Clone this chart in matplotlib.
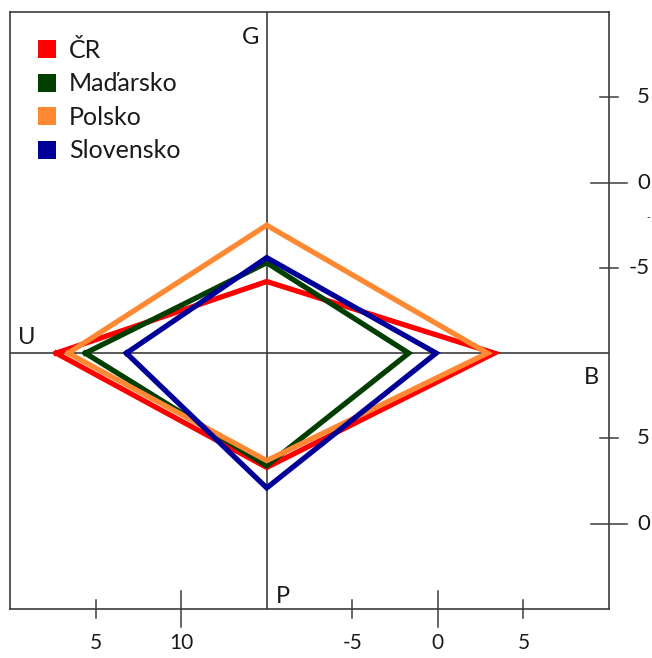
"""
Magic quadrangle of four economies (G, U, B, P).
"""
import matplotlib.pyplot as plt
from matplotlib.patches import Patch

countries = ["ČR", "Maďarsko", "Polsko", "Slovensko"]
colors = ["#ff0000", "#003f00", "#ff8833", "#000099"]

growth_g = [-5.8, -4.7, -2.5, -4.4]
unemployment_u = [2.7, 4.4, 3.4, 6.8]
balance_b = [3.3, -1.7, 2.9, -0.1]
prices_p = [3.3, 3.4, 3.7, 2.1]

g_ticks = [5, 0, -5]
p_ticks = [5, 0]
u_ticks = [5, 10]
b_ticks = [-5, 0, 5]


# each half-axis has its own scale, all meeting in the centre
def g_pos(v):
    return v + 10


def p_pos(v):
    return v - 10


def u_pos(v):
    return v - 15


def b_pos(v):
    return v + 10


plt.rcParams["font.family"] = ["Lato", "DejaVu Sans"]
line_col = "#3c3c3c"
text_col = "#1a1a1a"

fig = plt.figure(figsize=(6.52, 6.58), dpi=100)
ax = fig.add_axes([10 / 652, 49 / 658, 599 / 652, 597 / 658])
ax.set_xlim(-15, 20)
ax.set_ylim(-15, 20)
ax.set_xticks([])
ax.set_yticks([])
for s in ax.spines.values():
    s.set_color(line_col)
    s.set_linewidth(1.2)

ax.axhline(0, color=line_col, lw=1.2, zorder=1)
ax.axvline(0, color=line_col, lw=1.2, zorder=1)

for name, col, g, u, b, p in zip(countries, colors, growth_g, unemployment_u, balance_b, prices_p):
    xs = [u_pos(u), 0, b_pos(b), 0, u_pos(u)]
    ys = [0, g_pos(g), 0, p_pos(p), 0]
    ax.plot(xs, ys, color=col, lw=3.8, solid_joinstyle="miter", zorder=3)

# right side ticks (G above, P below)
for v in g_ticks:
    half = 1.03 if v == 0 else 0.55
    ax.plot([20 - half, 20 + half], [g_pos(v)] * 2, color=line_col, lw=1.1, clip_on=False)
    ax.text(22.4, g_pos(v), f"{v}", ha="right", va="center", fontsize=16, color=text_col)
for v in p_ticks:
    half = 1.03 if v == 0 else 0.55
    ax.plot([20 - half, 20 + half], [p_pos(v)] * 2, color=line_col, lw=1.1, clip_on=False)
    ax.text(22.4, p_pos(v), f"{v}", ha="right", va="center", fontsize=16, color=text_col)

# bottom ticks (U left, B right)
for v in u_ticks:
    half = 1.03 if v == 10 else 0.55
    ax.plot([u_pos(v)] * 2, [-15 - half, -15 + half], color=line_col, lw=1.1, clip_on=False)
    ax.text(u_pos(v), -17.0, f"{v}", ha="center", va="center", fontsize=15, color=text_col)
for v in b_ticks:
    half = 1.03 if v == 0 else 0.55
    ax.plot([b_pos(v)] * 2, [-15 - half, -15 + half], color=line_col, lw=1.1, clip_on=False)
    ax.text(b_pos(v), -17.0, f"{v}", ha="center", va="center", fontsize=15, color=text_col)

ax.text(22.4, 7.97, "-", ha="right", va="center", fontsize=7, color=text_col)

ax.text(-0.92, 18.5, "G", ha="center", va="center", fontsize=17, color=text_col)
ax.text(-14.0, 0.94, "U", ha="center", va="center", fontsize=17, color=text_col)
ax.text(18.95, -1.4, "B", ha="center", va="center", fontsize=17, color=text_col)
ax.text(0.95, -14.25, "P", ha="center", va="center", fontsize=17, color=text_col)

handles = [Patch(facecolor=c, edgecolor="none") for c in colors]
ax.legend(handles, countries, loc="upper left", bbox_to_anchor=(0.0467, 0.955),
          frameon=False, fontsize=18, borderpad=0, borderaxespad=0,
          handlelength=0.72, handleheight=0.72, handletextpad=0.52,
          labelspacing=0.42, labelcolor=text_col)

fig.savefig("out.png", dpi=100)
